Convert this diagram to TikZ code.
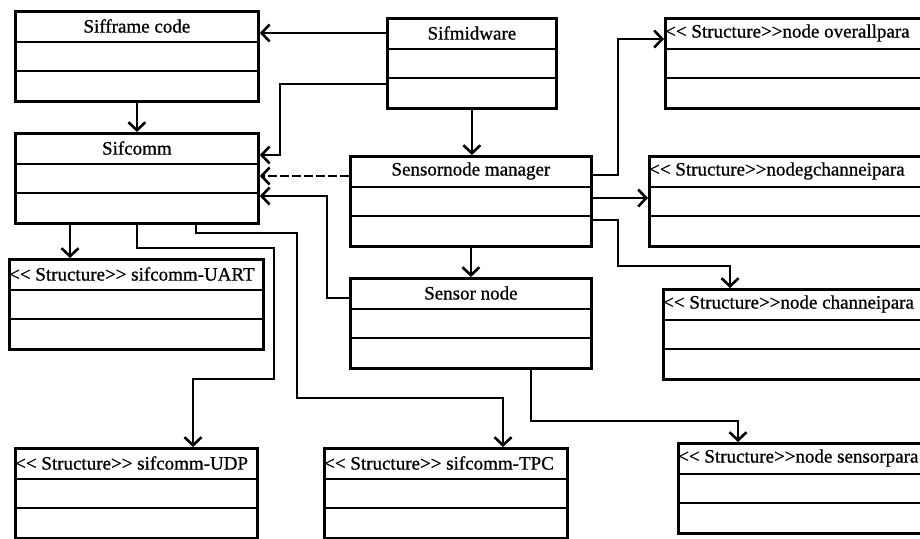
\documentclass[tikz,border=0pt]{standalone}
\usepackage{fontspec}
\setmainfont{Liberation Serif}[FakeBold=0.8]
\usetikzlibrary{arrows.meta, calc}

\newcommand{\stereo}{<\kern0pt< Structure>\kern0pt>}

\begin{document}
\begin{tikzpicture}[
    x=1pt, y=-1pt,
    font=\fontsize{19}{22}\selectfont,
    cls/.style={draw, line width=2.8pt, anchor=north west, inner sep=0pt,
                minimum height=90pt},
    ttl/.style={inner sep=1pt},
    rule/.style={line width=2.8pt},
    arr/.style={-{Straight Barb[length=8pt, width=17pt]}, line width=2.6pt}
  ]
    \useasboundingbox (0,0) rectangle (920,538);
    \clip (0,0) rectangle (920,538);

    % class boxes
    \node[cls, minimum width=243pt] (frame) at (14,10) {};
    \node[cls, minimum width=169pt] (mid) at (386,17) {};
    \node[cls, minimum width=243pt] (comm) at (14,132) {};
    \node[cls, minimum width=241pt] (mgr) at (349,155) {};
    \node[cls, minimum width=241pt] (sensor) at (349,277) {};
    \node[cls, minimum width=254pt] (uart) at (8,258) {};
    \node[cls, minimum width=242pt] (udp) at (14,447) {};
    \node[cls, minimum width=243pt] (tpc) at (323,447) {};
    \node[cls, minimum width=270pt] (overall) at (664,17) {};
    \node[cls, minimum width=280pt] (gchan) at (648,155) {};
    \node[cls, minimum width=270pt] (chan) at (662,288) {};
    \node[cls, minimum width=260pt] (spara) at (677,442) {};

    \foreach \b in {frame,mid,comm,mgr,sensor,uart,udp,tpc,overall,gchan,chan,spara} {
      \draw[rule] ([yshift=-32pt]\b.north west) -- ([yshift=-32pt]\b.north east);
      \draw[rule] ([yshift=-61pt]\b.north west) -- ([yshift=-61pt]\b.north east);
    }

    % titles
    \node[ttl] (frame-t) at ([yshift=-16pt]frame.north) {Sifframe code};
    \node[ttl] (mid-t) at ([yshift=-16pt]mid.north) {Sifmidware};
    \node[ttl] (comm-t) at ([yshift=-16pt]comm.north) {Sifcomm};
    \node[ttl] (mgr-t) at ([yshift=-16pt]mgr.north) {Sensornode manager};
    \node[ttl] (sensor-t) at ([yshift=-16pt]sensor.north) {Sensor node};
    \node[ttl, anchor=west] (uart-t) at ([yshift=-16pt]uart.north west) {\stereo{} sifcomm-UART};
    \node[ttl, anchor=west] (udp-t) at ([yshift=-16pt]udp.north west) {\stereo{} sifcomm-UDP};
    \node[ttl, anchor=west] (tpc-t) at ([yshift=-16pt]tpc.north west) {\stereo{} sifcomm-TPC};
    \node[ttl, anchor=west] (overall-t) at ([yshift=-16pt]overall.north west) {\stereo node overallpara};
    \node[ttl, anchor=west] (gchan-t) at ([yshift=-16pt]gchan.north west) {\stereo nodegchanneipara};
    \node[ttl, anchor=west] (chan-t) at ([yshift=-16pt]chan.north west) {\stereo node channeipara};
    \node[ttl, anchor=west] (spara-t) at ([yshift=-16pt]spara.north west) {\stereo node sensorpara};

    % connectors
    \draw[arr] (mid.west |- mid-t) -- (frame.east |- mid-t);
    \draw[arr] ([yshift=-67pt]mid.north west) -- ++(-106,0) |- ([yshift=-23pt]comm.north east);
    \draw[arr, dash pattern=on 9pt off 3pt] ([yshift=-21pt]mgr.north west) -- ([yshift=-44pt]comm.north east);
    \draw[arr] ([yshift=-21pt]sensor.north west) -- ++(-22,0) |- ([yshift=-64pt]comm.north east);
    \draw[arr] (frame) -- (comm);
    \draw[arr] (mid.south) -- (mid.south |- mgr.north);
    \draw[arr] (mgr) -- (sensor);

    \draw[arr] ([xshift=56pt]comm.south west) -- ([xshift=62pt]uart.north west);
    \draw[arr] (comm.south) -- ++(0,23) -- ++(137,0) -- ++(0,131) -| ([xshift=179pt]udp.north west);
    \draw[arr] ([xshift=182pt]comm.south west) -- ++(0,8) -- ++(101,0) -- ++(0,165) -| ([xshift=180pt]tpc.north west);

    \draw[arr] ([yshift=-20pt]mgr.north east) -- ++(25,0) |- ([yshift=-22pt]overall.north west);
    \draw[arr] ([yshift=-43pt]mgr.north east) -- ([yshift=-43pt]gchan.north west);
    \draw[arr] ([yshift=-65pt]mgr.north east) -- ++(25,0) -- ++(0,46) -| ([xshift=68pt]chan.north west);
    \draw[arr] ([xshift=182pt]sensor.south west) -- ++(0,51) -| ([xshift=61pt]spara.north west);
  \end{tikzpicture}
\end{document}
